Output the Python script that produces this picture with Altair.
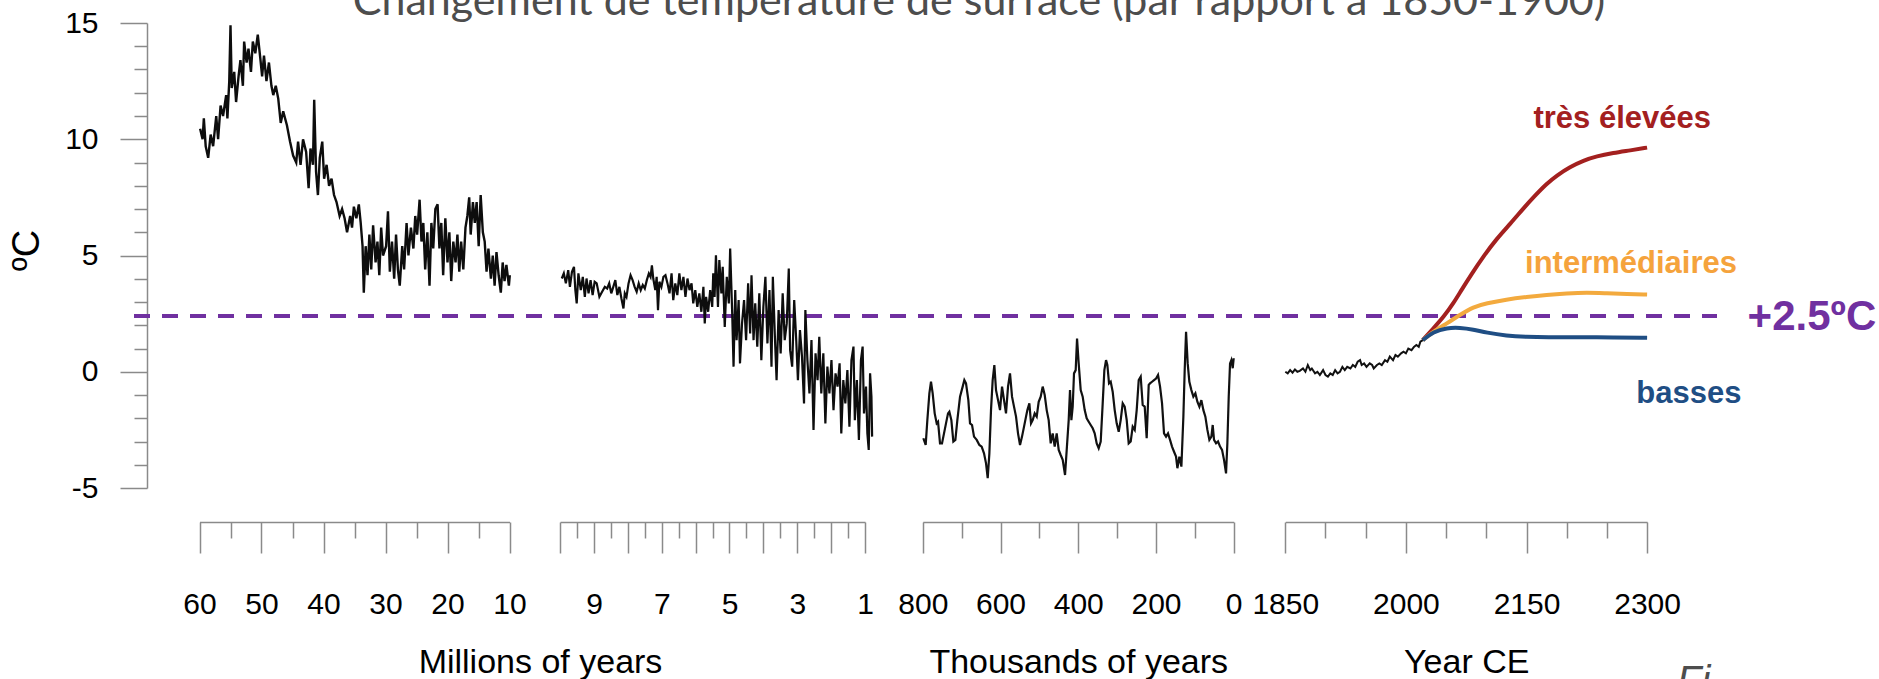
import altair as alt
import pandas as pd

# ---------------- data ----------------
# Panel 1 : millions of years before present (60 -> 10), temperature change (degC)
paleo_myr_a = [
    (59.9, 10.45), (59.5, 10.0), (59.3, 10.9), (59.0, 9.7), (58.6, 9.2), (58.2, 10.2), (57.8, 9.7),
    (57.3, 11.0), (57.0, 10.0), (56.6, 11.45), (56.2, 11.0), (55.7, 11.9), (55.5, 10.9), (55.2, 12.5),
    (55.0, 14.9), (54.8, 12.2), (54.4, 12.9), (54.1, 11.6), (53.7, 12.7), (53.4, 13.4), (53.0, 12.3),
    (52.8, 14.2), (52.4, 13.3), (52.1, 13.9), (51.7, 12.9), (51.4, 14.2), (51.0, 13.7), (50.6, 14.5),
    (50.2, 13.5), (49.9, 12.7), (49.6, 13.6), (49.2, 12.5), (48.8, 13.3), (48.4, 12.3), (48.1, 11.9),
    (47.7, 12.3), (47.3, 11.75), (46.9, 10.7), (46.5, 11.2), (45.9, 10.6), (45.4, 9.9), (44.9, 9.3),
    (44.4, 9.0), (44.1, 9.9), (43.7, 8.9), (43.3, 10.0), (42.8, 9.45), (42.4, 7.9), (42.1, 9.6),
    (41.7, 8.9), (41.5, 11.7), (41.2, 8.6), (40.9, 7.6), (40.6, 9.2), (40.2, 9.9), (39.9, 8.3),
    (39.5, 8.9), (39.1, 8.0), (38.7, 8.3), (38.3, 7.6), (37.9, 7.3), (37.4, 6.7), (37.0, 7.0),
    (36.6, 6.6), (36.2, 6.0), (35.7, 6.7), (35.4, 6.2), (35.1, 7.1), (34.7, 6.6), (34.3, 7.2),
    (34.0, 6.4), (33.7, 5.4), (33.5, 3.4), (33.2, 5.4), (32.9, 4.15), (32.6, 5.9), (32.3, 4.4),
    (32.0, 6.3), (31.6, 4.7), (31.3, 5.6), (31.0, 4.15), (30.7, 6.2), (30.4, 5.0), (29.9, 5.4),
    (29.6, 6.9), (29.3, 4.3), (28.95, 5.6), (28.6, 4.0), (28.3, 5.9), (28.0, 4.4), (27.7, 3.7),
    (27.3, 5.4), (27.0, 4.4), (26.6, 6.4), (26.3, 5.0), (25.9, 6.2), (25.5, 5.3), (25.2, 6.7),
    (24.9, 5.9), (24.5, 7.4), (24.2, 5.6), (23.9, 6.4), (23.6, 4.4), (23.25, 6.0), (22.9, 3.7),
    (22.6, 6.4), (22.3, 5.3), (21.96, 7.0), (21.6, 7.2), (21.3, 5.3), (21.0, 6.4), (20.7, 4.15),
    (20.35, 6.6), (20.0, 4.7), (19.7, 6.0), (19.4, 3.9), (19.06, 5.6), (18.7, 4.7), (18.4, 5.9),
    (18.1, 4.3), (17.8, 5.6), (17.45, 4.4), (17.1, 6.2), (16.8, 6.7), (16.5, 7.5), (16.26, 5.9),
    (15.9, 7.3), (15.6, 6.4), (15.3, 7.3), (14.97, 5.4), (14.65, 7.6), (14.3, 6.0), (14.0, 5.6),
    (13.7, 4.3), (13.4, 5.3), (13.0, 4.0), (12.7, 5.0), (12.4, 3.7), (12.1, 5.15), (11.75, 4.15),
    (11.4, 3.4), (11.1, 4.7), (10.8, 3.9), (10.5, 4.6), (10.1, 3.7), (9.95, 4.15),
]

# Panel 2 : millions of years (10 -> 0.8)
paleo_myr_b = [
    (9.95, 4.01), (9.89, 4.23), (9.83, 3.8), (9.76, 4.37), (9.71, 3.65), (9.65, 4.3), (9.59, 4.51),
    (9.55, 3.51), (9.51, 2.94), (9.46, 4.23), (9.39, 3.51), (9.33, 4.08), (9.27, 3.22), (9.22, 4.01),
    (9.16, 3.37), (9.10, 3.94), (9.04, 3.3), (8.98, 3.87), (8.92, 3.8), (8.84, 3.22), (8.76, 3.44),
    (8.68, 3.65), (8.61, 3.58), (8.55, 3.8), (8.49, 3.37), (8.43, 3.65), (8.37, 3.94), (8.31, 3.3),
    (8.25, 3.65), (8.19, 3.15), (8.13, 2.72), (8.09, 3.37), (8.04, 3.22), (7.98, 3.8), (7.92, 4.15),
    (7.86, 3.94), (7.80, 3.65), (7.74, 3.44), (7.68, 3.8), (7.62, 3.51), (7.56, 3.73), (7.50, 3.58),
    (7.44, 3.94), (7.38, 4.23), (7.33, 4.08), (7.29, 4.58), (7.25, 4.01), (7.19, 3.51), (7.15, 4.08),
    (7.11, 2.65), (7.07, 3.87), (7.01, 3.65), (6.95, 4.08), (6.89, 4.15), (6.83, 3.8), (6.77, 3.37),
    (6.71, 4.23), (6.66, 3.08), (6.60, 3.8), (6.54, 3.3), (6.48, 4.23), (6.42, 3.51), (6.36, 4.08),
    (6.30, 3.22), (6.24, 4.01), (6.18, 3.51), (6.12, 3.8), (6.07, 2.94), (6.01, 3.51), (5.95, 2.79),
    (5.89, 3.37), (5.83, 2.58), (5.77, 3.65), (5.73, 2.08), (5.69, 3.22), (5.63, 2.58), (5.57, 3.51),
    (5.51, 2.79), (5.48, 4.23), (5.44, 3.22), (5.40, 5.01), (5.34, 2.79), (5.30, 4.8), (5.24, 3.37),
    (5.20, 4.51), (5.14, 1.93), (5.08, 4.08), (5.02, 2.94), (4.98, 5.3), (4.92, 2.51), (4.88, 0.22),
    (4.83, 3.51), (4.79, 1.36), (4.73, 3.08), (4.69, 0.36), (4.63, 2.08), (4.57, 3.08), (4.51, 1.36),
    (4.45, 3.8), (4.39, 1.65), (4.35, 4.15), (4.29, 1.36), (4.24, 2.94), (4.18, 1.08), (4.12, 3.37),
    (4.06, 0.5), (4.00, 2.79), (3.94, 4.08), (3.88, 1.22), (3.82, 3.51), (3.76, 0.22), (3.72, 4.08),
    (3.66, 1.5), (3.61, -0.36), (3.55, 2.65), (3.49, 0.79), (3.43, 3.37), (3.37, 1.36), (3.31, 2.08),
    (3.25, 4.44), (3.21, 0.93), (3.15, 0.22), (3.09, 3.08), (3.03, 1.36), (2.98, -0.36), (2.92, 1.79),
    (2.86, 0.65), (2.80, -1.36), (2.76, 2.65), (2.70, 0.5), (2.64, -0.93), (2.58, 1.36), (2.52, -2.5),
    (2.46, 0.79), (2.40, -0.36), (2.35, 1.5), (2.29, -0.93), (2.23, 0.79), (2.17, -2.22), (2.11, 0.22),
    (2.05, -0.93), (1.99, 0.5), (1.93, -1.65), (1.87, -0.07), (1.81, -0.64), (1.75, 0.36), (1.70, -2.65),
    (1.64, -0.36), (1.58, -1.36), (1.52, 0.07), (1.46, -2.36), (1.40, 0.5), (1.34, 1.08), (1.30, -2.08),
    (1.24, -0.36), (1.18, -2.93), (1.12, 0.5), (1.07, 1.08), (1.03, -1.79), (0.97, -0.64), (0.93, -2.65),
    (0.89, -3.36), (0.85, -0.07), (0.81, -1.07), (0.79, -2.79),
]

# Panel 3 : thousands of years (800 -> 0)
paleo_kyr = [
    (798.6, -2.86), (792.6, -3.15), (788.3, -2.08), (783.1, -0.93), (778.9, -0.43), (774.6, -0.93),
    (769.4, -1.79), (764.3, -2.22), (760.8, -2.15), (755.7, -3.08), (750.6, -3.08), (745.4, -2.65),
    (740.3, -2.22), (735.1, -1.79), (731.7, -1.72), (726.5, -2.08), (721.4, -3.0), (716.2, -2.93),
    (711.1, -2.08), (704.2, -1.07), (697.4, -0.64), (693.1, -0.36), (688.8, -0.5), (682.8, -1.22),
    (678.5, -2.22), (673.3, -2.29), (668.2, -2.79), (661.3, -2.93), (654.5, -3.15), (648.5, -3.22),
    (642.5, -3.51), (637.3, -3.94), (633.0, -4.58), (628.7, -3.51), (624.5, -1.65), (620.2, -0.36),
    (615.9, 0.29), (611.6, -0.79), (606.4, -1.22), (601.3, -1.65), (596.1, -0.64), (591.0, -1.22),
    (585.9, -1.79), (580.7, -0.64), (575.6, -0.07), (570.4, -1.07), (565.3, -1.5), (560.1, -1.93),
    (555.0, -2.65), (549.8, -3.15), (544.7, -2.79), (539.5, -2.36), (534.4, -1.93), (530.9, -1.65),
    (525.8, -1.36), (521.5, -2.22), (517.2, -2.08), (512.1, -1.79), (506.9, -1.93), (501.8, -1.29),
    (496.6, -1.07), (491.5, -0.64), (486.3, -1.0), (481.2, -1.65), (476.1, -2.08), (470.9, -3.08),
    (465.8, -2.65), (460.6, -3.22), (455.5, -2.65), (450.3, -3.36), (445.2, -3.58), (440.0, -3.79),
    (434.0, -4.44), (429.7, -3.36), (424.6, -2.08), (421.2, -0.79), (417.7, -2.08), (414.3, -1.5),
    (410.9, -0.07), (406.6, 0.07), (403.1, 1.43), (398.9, 0.36), (393.7, -0.79), (388.6, -1.07),
    (383.4, -1.65), (378.3, -2.0), (373.1, -2.15), (368.0, -2.29), (362.8, -2.43), (357.7, -2.65),
    (352.5, -3.08), (347.4, -3.29), (342.2, -3.0), (337.1, -1.36), (332.8, 0.07), (328.5, 0.5),
    (325.1, 0.29), (320.8, -0.5), (316.5, -0.43), (311.4, -0.86), (306.2, -1.65), (301.1, -2.22),
    (295.9, -2.58), (290.8, -2.08), (285.6, -1.36), (280.5, -1.5), (275.3, -2.08), (270.2, -3.08),
    (265.0, -3.0), (259.9, -2.36), (254.7, -2.5), (249.6, -1.65), (244.4, -0.36), (239.3, -0.21),
    (234.2, -1.43), (229.0, -1.5), (223.9, -2.86), (218.7, -0.57), (215.3, -0.5), (210.1, -0.43),
    (205.0, -0.36), (199.8, -0.29), (194.7, -0.14), (189.5, -0.64), (184.4, -1.36), (179.3, -2.65),
    (174.1, -2.79), (169.0, -2.65), (163.8, -2.93), (158.7, -3.22), (153.5, -3.44), (148.4, -3.65),
    (144.9, -4.15), (139.8, -3.65), (134.6, -4.08), (129.5, -1.93), (126.1, 0.07), (122.6, 1.72),
    (118.4, 0.36), (114.1, -0.43), (108.9, -0.79), (103.8, -1.07), (98.6, -0.93), (93.5, -1.29),
    (88.3, -1.5), (83.2, -1.22), (78.0, -1.65), (72.9, -1.93), (67.7, -2.5), (62.6, -2.93),
    (57.4, -2.79), (54.0, -2.29), (50.6, -2.93), (45.4, -3.08), (40.3, -3.0), (35.1, -3.22),
    (30.0, -3.36), (24.9, -3.79), (19.7, -4.37), (16.3, -3.08), (12.8, -1.07), (9.4, 0.36),
    (6.0, 0.5), (2.5, 0.15), (0.0, 0.58),
]

# Panel 4 : observed 1850-2021 and scenarios to 2300
observed = [
    (1850, 0.0), (1853, -0.07), (1856, 0.07), (1859, -0.04), (1862, 0.1), (1865, 0.0), (1868, 0.04),
    (1872, 0.14), (1875, 0.0), (1878, 0.29), (1881, 0.07), (1883, 0.14), (1887, -0.07), (1890, 0.0),
    (1893, -0.14), (1897, 0.07), (1900, -0.14), (1903, -0.21), (1906, -0.07), (1909, -0.14),
    (1912, 0.07), (1915, -0.07), (1918, 0.0), (1921, 0.21), (1924, 0.07), (1927, 0.21), (1931, 0.14),
    (1934, 0.29), (1937, 0.21), (1940, 0.43), (1943, 0.5), (1945, 0.29), (1948, 0.36), (1951, 0.21),
    (1955, 0.36), (1958, 0.29), (1960, 0.14), (1964, 0.29), (1967, 0.36), (1970, 0.29), (1974, 0.5),
    (1977, 0.43), (1980, 0.65), (1984, 0.5), (1987, 0.72), (1990, 0.65), (1994, 0.79), (1997, 0.86),
    (2000, 0.79), (2003, 1.0), (2007, 0.93), (2010, 1.07), (2013, 1.15), (2016, 1.07), (2018, 1.29),
    (2021, 1.36),
]
scen_high = [
    (2021, 1.36), (2034, 1.86), (2047, 2.36), (2059, 2.94), (2069, 3.51), (2082, 4.22), (2096, 4.94),
    (2113, 5.73), (2130, 6.37), (2146, 7.02), (2159, 7.52), (2175, 8.09), (2188, 8.45), (2204, 8.81),
    (2221, 9.09), (2237, 9.27), (2258, 9.41), (2279, 9.52), (2300, 9.64),
]
scen_mid = [
    (2021, 1.36), (2034, 1.72), (2051, 2.08), (2067, 2.44), (2084, 2.79), (2100, 2.94), (2125, 3.11),
    (2150, 3.22), (2175, 3.31), (2200, 3.37), (2225, 3.41), (2250, 3.37), (2275, 3.34), (2300, 3.32),
]
scen_low = [
    (2021, 1.36), (2034, 1.72), (2051, 1.89), (2067, 1.90), (2084, 1.82), (2100, 1.68), (2125, 1.55),
    (2150, 1.50), (2175, 1.48), (2217, 1.48), (2258, 1.48), (2300, 1.46),
]

threshold = 2.4
scenario_labels = ["très élevées", "intermédiaires", "basses", "+2.5ºC"]
scenario_label_year = [2269, 2280, 2352, 2505]
scenario_label_temp = [10.47, 4.23, -1.36, 1.79]
scenario_label_color = ["#a3201f", "#f5a33c", "#1f4e84", "#7030a0"]
scenario_label_size = [31, 31, 31, 42]

title_text = "Changement de température de surface (par rapport à 1850-1900)"

ticks_a = [60, 55, 50, 45, 40, 35, 30, 25, 20, 15, 10]
ticks_b = [10, 9.5, 9, 8.5, 8, 7.5, 7, 6.5, 6, 5.5, 5, 4.5, 4, 3.5, 3, 2.5, 2, 1.5, 1]
ticks_c = [800, 700, 600, 500, 400, 300, 200, 100, 0]
ticks_d = [1850, 1900, 1950, 2000, 2050, 2100, 2150, 2200, 2250, 2300]
ticks_y = list(range(-5, 16))

# ---------------- styling ----------------
NARROW = "Liberation Sans Narrow, Arial Narrow, Liberation Sans, Arial, sans-serif"
SANS = "Liberation Sans, Arial, sans-serif"
GRAY = "#8a8a8a"

def df(pairs, xname):
    return pd.DataFrame(pairs, columns=[xname, "temp"])

y_axis = alt.Axis(
    values=ticks_y, orient="left", grid=False,
    domainColor=GRAY, domainWidth=1.5, tickColor=GRAY, tickWidth=1.5,
    tickSize={"condition": {"test": "datum.value % 5 === 0", "value": 27}, "value": 13},
    labelExpr="datum.value % 5 === 0 ? '' + datum.value : ''",
    labelFont=NARROW, labelFontSize=30, labelColor="black", labelPadding=22,
    labelOverlap=False,
    title="ºC", titleFont=SANS, titleFontSize=38, titleFontWeight="normal", titleColor="black",
    titleAngle=270, titleX=-120, titleY=227, titleBaseline="middle", titleAlign="center",
)
y_scale = alt.Scale(domain=[-5, 15], nice=False, zero=False)
y_enc = alt.Y("temp:Q", scale=y_scale, axis=y_axis)


def x_axis(values, major, show, title, title_x=None):
    kw = dict(
        values=values, orient="bottom", offset=34, grid=False,
        domainColor=GRAY, domainWidth=1.5, tickColor=GRAY, tickWidth=1.5,
        tickSize={"condition": {"test": major, "value": 31}, "value": 16},
        labelExpr="(" + show + ") ? '' + datum.value : ''",
        labelFont=NARROW, labelFontSize=30, labelColor="black", labelPadding=36,
        labelFlush=False, labelOverlap=False,
        title=title, titleFont=NARROW, titleFontSize=34, titleFontWeight="normal",
        titleColor="black", titleBaseline="alphabetic", titleY=150,
    )
    if title_x is not None:
        kw["titleX"] = title_x
    return alt.Axis(**kw)


def x_enc(field, domain, rng, axis):
    return alt.X(field + ":Q", scale=alt.Scale(domain=domain, range=rng, nice=False, zero=False), axis=axis)


ax_a = x_axis(ticks_a, "datum.value % 10 === 0", "datum.value % 10 === 0", "Millions of years", 393)
ax_b = x_axis(ticks_b, "datum.value % 1 === 0", "datum.value % 2 === 1", None)
ax_c = x_axis(ticks_c, "datum.value % 200 === 0", "datum.value % 200 === 0", "Thousands of years")
ax_d = x_axis(ticks_d, "(datum.value - 1850) % 150 === 0", "(datum.value - 1850) % 150 === 0", "Year CE")

x_a = x_enc("myr", [60, 10], [52.5, 362.5], ax_a)
x_b = x_enc("myr", [10, 1], [413.1, 718], ax_b)
x_c = x_enc("kyr", [800, 0], [775.8, 1086.7], ax_c)
x_d = x_enc("year", [1850, 2300], [1138.3, 1500.1], ax_d)

panel_a = alt.Chart(df(paleo_myr_a, "myr")).mark_line(color="#0d0d0d", strokeWidth=2.4).encode(x=x_a, y=y_enc)
panel_b = alt.Chart(df(paleo_myr_b, "myr")).mark_line(color="#0d0d0d", strokeWidth=2.2).encode(x=x_b, y=y_enc)
panel_c = alt.Chart(df(paleo_kyr, "kyr")).mark_line(color="#111111", strokeWidth=2.2).encode(x=x_c, y=y_enc)

high = alt.Chart(df(scen_high, "year")).mark_line(color="#a3201f", strokeWidth=4, interpolate="basis").encode(x=x_d, y=y_enc)
mid = alt.Chart(df(scen_mid, "year")).mark_line(color="#f3aa3e", strokeWidth=4, interpolate="basis").encode(x=x_d, y=y_enc)
low = alt.Chart(df(scen_low, "year")).mark_line(color="#1f4e84", strokeWidth=4, interpolate="basis").encode(x=x_d, y=y_enc)
obs = alt.Chart(df(observed, "year")).mark_line(color="#111111", strokeWidth=2).encode(x=x_d, y=y_enc)

lab_df = pd.DataFrame({
    "year": scenario_label_year, "temp": scenario_label_temp, "label": scenario_labels,
    "color": scenario_label_color, "fs": scenario_label_size,
})
labels = alt.Chart(lab_df).mark_text(font=SANS, fontWeight="bold", align="center", baseline="alphabetic").encode(
    x=x_d, y=y_enc, text="label:N",
    color=alt.Color("color:N", scale=None), size=alt.Size("fs:Q", scale=None),
)
panel_d = alt.layer(high, mid, low, obs, labels)

rule = alt.Chart(pd.DataFrame({"v": [threshold]})).mark_rule(
    color="#7030a0", strokeWidth=4, strokeDash=[16, 12]
).encode(y=alt.Y("v:Q", scale=y_scale, axis=y_axis), x=alt.value(-13), x2=alt.value(1570))

title = alt.Chart(pd.DataFrame({"t": [title_text]})).mark_text(
    font="Lato, Open Sans, sans-serif", fontSize=43, color="#4d4d4d", align="center", baseline="alphabetic"
).encode(text="t:N", x=alt.value(832), y=alt.value(-8))

fig = alt.Chart(pd.DataFrame({"t": ["Fi"]})).mark_text(
    font=SANS, fontSize=40, fontStyle="italic", color="#4d4d4d", align="left", baseline="alphabetic"
).encode(text="t:N", x=alt.value(1530), y=alt.value(671))

chart = alt.layer(rule, panel_a, panel_b, panel_c, panel_d, title, fig).resolve_scale(
    x="independent"
).resolve_axis(x="independent").properties(
    width=1732, height=465,
    padding={"left": 147, "top": 23, "right": 0, "bottom": 191},
    autosize=alt.AutoSizeParams(type="none"),
    background="white",
).configure_view(strokeWidth=0)

chart.save("out.html", embed_options={"renderer": "svg", "actions": False})
